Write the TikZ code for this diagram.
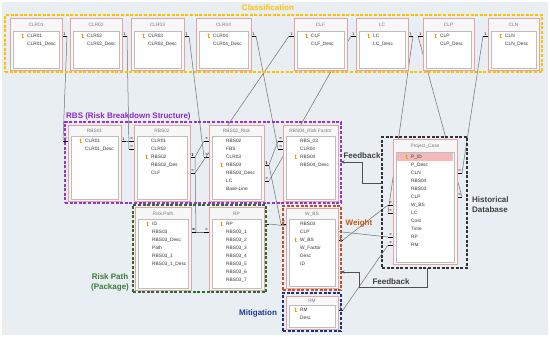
\documentclass[tikz,border=0pt]{standalone}
\usepackage{fontspec}
\setmainfont{Liberation Sans}
\newfontfamily\dejavu{DejaVu Sans}
\usetikzlibrary{calc,arrows.meta}
\definecolor{bgc}{HTML}{E9EEF2}
\definecolor{pinkb}{HTML}{E6A3A3}
\definecolor{innerb}{HTML}{BDBDBD}
\definecolor{titlec}{HTML}{7A7A7A}
\definecolor{textc}{HTML}{333333}
\definecolor{connc}{HTML}{707070}
\definecolor{keyc}{HTML}{D9A514}
\definecolor{pidc}{HTML}{F5B9B9}
\definecolor{yel}{HTML}{FFC000}
\definecolor{purf}{HTML}{9933CC}
\definecolor{purt}{HTML}{8A2BC2}
\definecolor{grnf}{HTML}{2F6B2F}
\definecolor{grnt}{HTML}{3A7A3A}
\definecolor{brnf}{HTML}{C0502A}
\definecolor{wt}{HTML}{C55A11}
\definecolor{navyf}{HTML}{1F2E86}
\definecolor{navyt}{HTML}{1F3A93}
\definecolor{blkf}{HTML}{333333}
\definecolor{fbt}{HTML}{404040}
\definecolor{fbc}{HTML}{505050}
\pgfdeclarelayer{bglayer}
\pgfdeclarelayer{linelayer}
\pgfsetlayers{bglayer,linelayer,main}
\tikzset{
 tblout/.style={draw=pinkb, line width=0.8pt, fill=white!97!black, rectangle, inner sep=0pt, outer sep=0pt},
 tblin/.style={draw=innerb, line width=0.6pt, fill=white, rectangle, inner sep=0pt, outer sep=0pt},
 tbltitle/.style={text=titlec, font=\fontsize{4.8}{5}\selectfont, inner sep=0pt},
 rowtxt/.style={anchor=west, text=textc, font=\fontsize{4.8}{5}\selectfont, inner sep=0pt},
 conn/.style={draw=connc, line width=0.5pt},
 stub/.style={draw=black, line width=0.9pt},
 mk/.style={font=\dejavu\fontsize{3.6}{3.6}\selectfont, inner sep=0pt},
 grpbox/.style={line width=1.2pt, dash pattern=on 3pt off 1.6pt, rectangle, inner sep=0pt, outer sep=0pt},
 glabel/.style={font=\bfseries\fontsize{8}{10}\selectfont, inner sep=0pt},
 fb/.style={draw=fbc, line width=0.8pt, -{Stealth[length=3.5pt,width=3pt]}},
}
\newcount\mkn
\newcommand\grpnode[6]{%
 \node[grpbox, draw=#6, minimum width={(#4-#2)*1pt}, minimum height={(#5-#3)*1pt}] (#1) at ({(#2+#4)/2},{(#3+#5)/2}) {};}
\newcommand\tbl[7]{%
 \node[tblout, minimum width={(#4-#2)*1pt}, minimum height={(#5-#3)*1pt}] (#1) at ({(#2+#4)/2},{(#3+#5)/2}) {};
 \node[tbltitle] (#1-t) at ({(#2+#4)/2},{(#3+#7-4.5)/2+0.5}) {#6};
 \node[tblin, minimum width={(#4-#2-6)*1pt}, minimum height={(#5-2-#7+4.5)*1pt}] (#1-in) at ({(#2+#4)/2},{(#7-4.5+#5-2)/2}) {};}
\newcommand\keyicon[2]{%
 \fill[keyc] (#1,{#2-1.2}) circle (1.1);
 \fill[keyc] ({#1-0.35},{#2-0.8}) rectangle ({#1+0.35},{#2+2.3});
 \fill[keyc] ({#1+0.35},{#2+1.2}) rectangle ({#1+1.1},{#2+1.7});}
\newcommand\rws[5]{%
 \foreach \t [count=\i from 0] in {#5}{%
   \node[rowtxt] (#1-\i) at (#2,{#3+8*\i}) {\t};
   \ifnum\i=#4 \keyicon{#2-4.5}{#3+8*\i}\fi
 }}
\newcommand\rel[6]{%
 \draw[conn] ($(#1)+(#2*5,0)$) -- ($(#4)+(#5*5,0)$);
 \draw[stub] (#1) -- ++(#2*5,0);
 \draw[stub] (#4) -- ++(#5*5,0);
 \global\advance\mkn by 1
 \node[mk] (mk\the\mkn) at ($(#1)+(#2*2.5,-2.2)$) {#3};
 \global\advance\mkn by 1
 \node[mk] (mk\the\mkn) at ($(#4)+(#5*2.5,-2.2)$) {#6};}
\begin{document}
\begin{tikzpicture}[x=1pt,y=-1pt]
\useasboundingbox (0,0) rectangle (550,337);
\begin{pgfonlayer}{bglayer}
 \fill[white] (0,0) rectangle (550,337);
 \fill[bgc] (2,2) rectangle (548,335);
\end{pgfonlayer}
% group frames
\grpnode{gcls}{5}{15}{542}{72}{yel}
\grpnode{grbs}{65}{122}{341}{203}{purf}
\grpnode{gpath}{133}{205}{266}{292}{grnf}
\grpnode{gw}{283}{206}{341}{290}{brnf}
\grpnode{gm}{283}{293}{341}{331}{navyf}
\grpnode{ghist}{382}{137}{467}{268}{blkf}
% tables
\tbl{clr1}{10}{18}{62}{70}{CLR01}{36}
\rws{clr1r}{27}{36}{0}{CLR01,CLR01\_Desc}
\tbl{clr2}{70}{18}{122}{70}{CLR02}{36}
\rws{clr2r}{87}{36}{0}{CLR02,CLR02\_Desc}
\tbl{clr3}{131}{18}{184}{70}{CLR03}{36}
\rws{clr3r}{148}{36}{0}{CLR03,CLR03\_Desc}
\tbl{clr4}{196}{18}{251}{70}{CLR04}{36}
\rws{clr4r}{213}{36}{0}{CLR04,CLR04\_Desc}
\tbl{clf}{294}{18}{347}{70}{CLF}{36}
\rws{clfr}{311}{36}{0}{CLF,CLF\_Desc}
\tbl{lc}{356}{18}{408}{70}{LC}{36}
\rws{lcr}{373}{36}{0}{LC,LC\_Desc}
\tbl{clp}{423}{18}{474}{70}{CLP}{36}
\rws{clpr}{440}{36}{0}{CLP,CLP\_Desc}
\tbl{cln}{488}{18}{539}{70}{CLN}{36}
\rws{clnr}{505}{36}{0}{CLN,CLN\_Desc}
\tbl{rbs1}{68}{125}{121}{201}{RBS01}{141}
\rws{rbs1r}{85}{141}{0}{CLR01,CLR01\_Desc}
\tbl{rbs2}{134}{125}{190}{201}{RBS02}{141}
\rws{rbs2r}{151}{141}{2}{CLR01,CLR02,RBS02,RBS02\_Des,CLF}
\tbl{rbs3}{209}{125}{264}{201}{RBS03\_Risk}{141}
\rws{rbs3r}{226}{141}{3}{RBS02,FBS,CLR03,RBS03,RBS03\_Desc,LC,Base-Line}
\tbl{rbs4}{283}{125}{338}{201}{RBS04\_Risk Factor}{141}
\rws{rbs4r}{300}{141}{2}{RBS\_03,CLR04,RBS04,RBS04\_Desc}
\tbl{rpath}{135}{207}{191}{290}{Risk Path}{224}
\rws{rpathr}{152}{224}{0}{ID,RBS03,RBS03\_Desc,Path,RBS03\_1,RBS03\_1\_Desc}
\tbl{rp}{209}{207}{264}{290}{RP}{224}
\rws{rpr}{226}{224}{0}{RP,RBS03\_1,RBS03\_2,RBS03\_3,RBS03\_4,RBS03\_5,RBS03\_6,RBS03\_7}
\tbl{wbs}{286}{208}{338}{288}{W\_BS}{224}
\rws{wbsr}{300}{224}{2}{RBS03,CLP,W\_BS,W\_Factor,Desc,ID}
\tbl{rm}{286}{296}{338}{329}{RM}{310}
\rws{rmr}{300}{310}{0}{RM,Desc}
\tbl{pc}{393}{139}{457}{264}{Project\_Case}{157}
\node[fill=pidc, minimum width=56pt, minimum height=8pt, inner sep=0pt] (pid) at (425,157) {};
\rws{pcr}{411}{157}{0}{P\_ID,P\_Desc,CLN,RBS04,RBS03,CLP,W\_BS,LC,Cost,Time,RP,RM}
% connectors
\begin{pgfonlayer}{linelayer}
\rel{clr1.east |- clr1r-0}{1}{1}{rbs1.west |- rbs1r-0}{-1}{∞}
\rel{clr2.east |- clr2r-0}{1}{1}{rbs2.west |- rbs2r-1}{-1}{∞}
\rel{rbs1.east |- rbs1r-0}{1}{1}{rbs2.west |- rbs2r-0}{-1}{∞}
\rel{clr3.east |- clr3r-0}{1}{1}{rbs3.west |- rbs3r-2}{-1}{∞}
\rel{rbs2.east |- rbs2r-2}{1}{1}{rbs3.west |- rbs3r-0}{-1}{∞}
\rel{clf.west |- clfr-0}{-1}{1}{rbs2.east |- rbs2r-4}{1}{∞}
\rel{clr4.east |- clr4r-0}{1}{1}{rbs4.west |- rbs4r-1}{-1}{∞}
\rel{rbs3.east |- rbs3r-3}{1}{1}{rbs4.west |- rbs4r-0}{-1}{∞}
\rel{lc.west |- lcr-0}{-1}{1}{rbs3.east |- rbs3r-5}{1}{∞}
\rel{lc.east |- lcr-0}{1}{1}{pc.west |- pcr-7}{-1}{∞}
\rel{clp.west |- clpr-0}{-1}{1}{pc.east |- pcr-5}{1}{∞}
\rel{cln.west |- clnr-0}{-1}{1}{pc.east |- pcr-2}{1}{∞}
\rel{wbs.east |- wbsr-2}{1}{1}{pc.west |- pcr-6}{-1}{∞}
\rel{rp.east |- rpr-0}{1}{1}{pc.west |- pcr-10}{-1}{∞}
\rel{rm.east |- rmr-0}{1}{1}{pc.west |- pcr-11}{-1}{∞}
\rel{rbs2.east |- rbs2r-2}{1}{1}{rpath.east |- rpathr-1}{1}{∞}
\rel{rpath.east |- rpathr-1}{1}{∞}{rp.west |- rpr-1}{-1}{∞}
\rel{rbs3.east |- rbs3r-3}{1}{1}{wbs.west |- wbsr-0}{-1}{∞}
\end{pgfonlayer}
% feedback arrows
\coordinate (fbA) at (362,183);
\coordinate (fbB) at (362,162);
\draw[fb] (ghist.west |- fbA) -- (fbA) -- (fbB) -- (grbs.east |- fbB);
\coordinate (fbC) at (427,287);
\coordinate (fbD) at (359,287);
\coordinate (fbE) at (359,272);
\draw[fb] (ghist.south -| fbC) -- (fbC) -- (fbD) -- (fbE) -- (gw.east |- fbE);
% labels
\node[glabel, text=yel] (lcls) at (268,8) {Classification};
\node[glabel, text=purt, anchor=west] (lrbs) at (66,116) {RBS (Risk Breakdown Structure)};
\node[glabel, text=fbt] (lfb1) at (362,156) {Feedback};
\node[glabel, text=fbt, anchor=west, align=left] (lhist) at (472,204.5) {Historical\\Database};
\node[glabel, text=wt] (lw) at (359,223) {Weight};
\node[glabel, text=fbt] (lfb2) at (391,282) {Feedback};
\node[glabel, text=navyt] (lm) at (258,313) {Mitigation};
\node[glabel, text=grnt, align=center] (lrp) at (110,282) {Risk Path\\(Package)};
\end{tikzpicture}
\end{document}
